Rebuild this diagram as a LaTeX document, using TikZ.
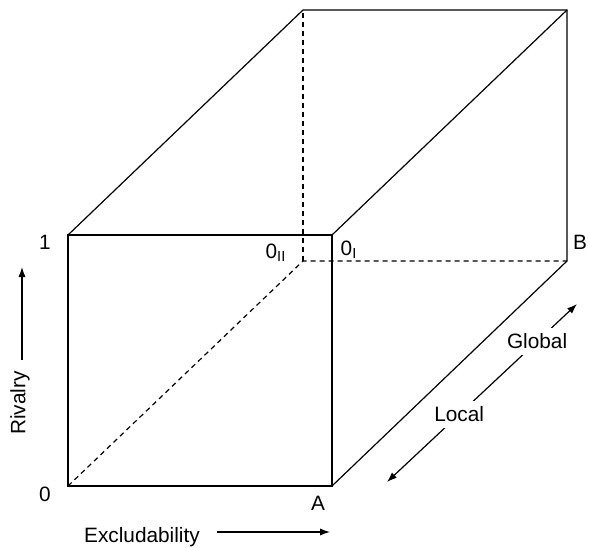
\documentclass[tikz,border=0pt]{standalone}
\usepackage{fontspec}
\setmainfont{Liberation Sans}
\usetikzlibrary{arrows.meta,positioning}

\begin{document}
\begin{tikzpicture}[x=0.5pt,y=-0.5pt,line width=0.6pt,
  hidden/.style={dash pattern=on 2.5pt off 2pt},
  lbl/.style={inner sep=1pt,font=\fontsize{10.4}{12}\selectfont},
  gaplbl/.style={lbl,fill=white,inner sep=2.8pt},
  axis/.style={-{Latex[length=5pt,width=3.6pt]}}]
\useasboundingbox (0,0) rectangle (589,547);
% front face
\coordinate (f0) at (68,486);
\coordinate (fA) at (332,486);
\coordinate (f1) at (68,235);
\coordinate (fI) at (332,235);
% back face
\coordinate (b0) at (303,261);
\coordinate (bB) at (567,261);
\coordinate (b1) at (303,10);
\coordinate (bI) at (567,10);
\draw (f0) -- (fA) -- (fI) -- (f1) -- cycle;
\draw (f1) -- (b1) -- (bI) -- (bB) -- (fA);
\draw (fI) -- (bI);
\draw[hidden] (f0) -- (b0) -- (bB);
\draw[hidden] (b0) -- (b1);
% corner labels
\node[lbl] (one) at (45,242) {1};
\node[lbl] (zero) at (45,494) {0};
\node[lbl] (A) at (318,503) {A};
\node[lbl] (B) at (580,242) {B};
\node[lbl] (oII) at (276,253) {0\textsubscript{II}};
\node[lbl] (oI) at (349,250) {0\textsubscript{I}};
% axes
\coordinate (rs) at (22,360);
\coordinate (re) at (22,267);
\draw[axis] (rs) -- (re);
\node[lbl,rotate=90] (rival) at (20,403) {Rivalry};
\node[lbl] (excl) at (142,537) {Excludability};
\coordinate (es) at (217,532);
\coordinate (ee) at (330,532);
\draw[axis] (es) -- (ee);
% depth arrow
\coordinate (lg0) at (387,482);
\coordinate (lg1) at (577,304);
\draw[{Latex[length=5pt,width=3.6pt]}-{Latex[length=5pt,width=3.6pt]}] (lg0)
  -- node[gaplbl,pos=0.38] (local) {Local}
     node[gaplbl,pos=0.79] (global) {Global} (lg1);
\end{tikzpicture}
\end{document}
